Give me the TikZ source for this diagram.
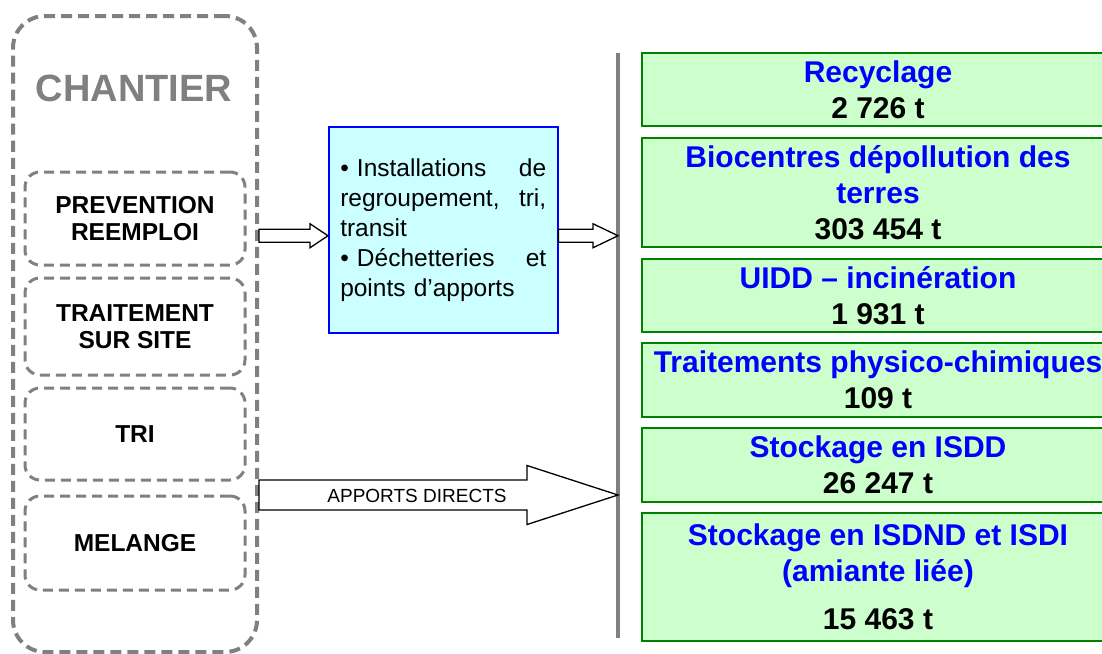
\documentclass[tikz,border=0pt]{standalone}
\usepackage{fontspec}
\setmainfont{Liberation Sans}
\usetikzlibrary{calc}
\definecolor{dashgray}{RGB}{128,128,128}
\definecolor{boxgreen}{RGB}{204,255,204}
\definecolor{edgegreen}{RGB}{0,128,0}
\definecolor{boxcyan}{RGB}{204,255,255}
\definecolor{txtblue}{RGB}{0,0,255}
\newcommand\hollowarrow[5]{%
  \draw[arrowline] let \p1=(#1), \p2=(#2) in
  (\x1,\y1+#3) -- (\x2-#5,\y1+#3) -- (\x2-#5,\y1+#4) -- (\x2,\y1) --
  (\x2-#5,\y1-#4) -- (\x2-#5,\y1-#3) -- (\x1,\y1-#3) -- cycle;}
\tikzset{
  outerbox/.style={draw=dashgray, line width=4pt, dash pattern=on 11pt off 6pt, rounded corners=32pt, minimum width=244pt, minimum height=636pt, inner sep=0pt},
  innerbox/.style={draw=dashgray, line width=3pt, dash pattern=on 10pt off 6pt, rounded corners=15pt, minimum width=220pt, inner sep=0pt, align=center, font=\bfseries\fontsize{24.5}{27}\selectfont},
  greenbox/.style={draw=edgegreen, fill=boxgreen, line width=2pt, minimum width=472pt, inner sep=0pt, align=center, font=\bfseries\fontsize{30}{36}\selectfont},
  bluebox/.style={draw=txtblue, fill=boxcyan, line width=1.5pt, minimum width=229pt, minimum height=206pt, inner sep=0pt, text width=206pt, align=left, font=\fontsize{24.5}{30}\selectfont},
  arrowline/.style={draw=black, fill=white, line width=1.3pt},
  grayline/.style={draw=dashgray, line width=4pt}
}
\newcommand\bl[1]{\textcolor{txtblue}{#1}}
\begin{document}
\begin{tikzpicture}[x=1pt,y=-1pt]
\useasboundingbox (0,0) rectangle (1102,653);
\clip (0,0) rectangle (1102,653);
% left column
\node[outerbox] (chantier) at (135,334) {};
\node[anchor=base, text=dashgray, font=\bfseries\fontsize{38}{42}\selectfont] (title) at (134,101) {CHANTIER};
\node[innerbox, minimum height=93pt] (prev) at (135,218.5) {PREVENTION\\REEMPLOI};
\node[innerbox, minimum height=97pt] (trait) at (135,326.5) {TRAITEMENT\\SUR SITE};
\node[innerbox, minimum height=92pt] (trinode) at (135,434) {TRI};
\node[innerbox, minimum height=94pt] (mel) at (135,543) {MELANGE};
% middle box
\node[bluebox, anchor=north west] (tri) at (328,126) {%
\textbullet{} Installations \hfill de\\
regroupement, \hfill tri,\\
transit\\
\textbullet{} Déchetteries \hfill et\\
points d’apports};
% gray separator
\coordinate (lt) at (618,53);
\coordinate (lb) at (618,638);
\draw[grayline] (lt) -- (lb);
% green boxes
\node[greenbox, minimum height=73pt] (g1) at (878,89.5) {\bl{Recyclage}\\2 726 t};
\node[greenbox, minimum height=109pt] (g2) at (878,192.5) {\bl{Biocentres dépollution des}\\\bl{terres}\\303 454 t};
\node[greenbox, minimum height=73pt] (g3) at (878,295.5) {\bl{UIDD – incinération}\\1 931 t};
\node[greenbox, minimum height=74pt] (g4) at (878,380) {\bl{Traitements physico-chimiques}\\109 t};
\node[greenbox, minimum height=74pt] (g5) at (878,465) {\bl{Stockage en ISDD}\\26 247 t};
\node[greenbox, minimum height=128pt] (g6) at (878,577) {\bl{Stockage en ISDND et ISDI}\\\bl{(amiante liée)}\\[12pt]15 463 t};
% arrows
\coordinate (a1s) at ([yshift=-6pt]chantier.east |- tri.west);
\coordinate (a1e) at ([yshift=-6pt]tri.west);
\coordinate (a2s) at ([yshift=-6pt]tri.east);
\coordinate (a2e) at (lt |- a2s);
\hollowarrow{a1s}{a1e}{6.5pt}{12pt}{18pt}
\hollowarrow{a2s}{a2e}{6.5pt}{12pt}{25pt}
\coordinate (a3s) at (chantier.east |- 0,495);
\coordinate (a3e) at (lt |- a3s);
\hollowarrow{a3s}{a3e}{15pt}{29.5pt}{91pt}
\node[anchor=base, font=\fontsize{19}{22}\selectfont] (ad) at (417,502) {APPORTS DIRECTS};
\end{tikzpicture}
\end{document}
